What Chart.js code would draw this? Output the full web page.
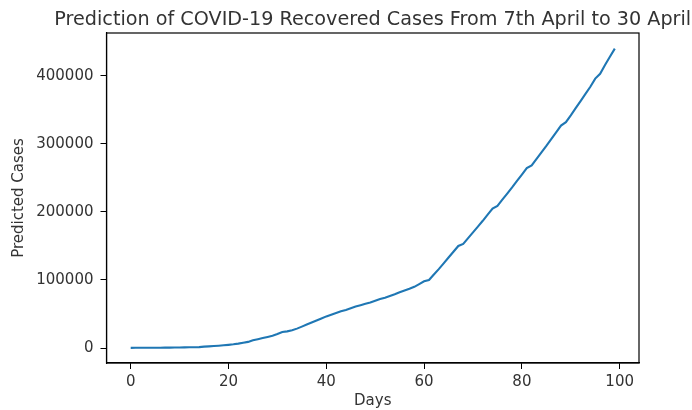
<!DOCTYPE html>
<html>
<head>
<meta charset="utf-8">
<script src="https://cdn.jsdelivr.net/npm/chart.js@4.4.1/dist/chart.umd.min.js"></script>
<style>
    body { margin: 0; background: #fff; }
</style>
</head>
<body>
<canvas id="chart" width="692" height="410"></canvas>
<script>
// predicted recovered cases
const days = [];
for (let d = 0; d < 100; d++) days.push(d);

const predicted = [
    300, 320, 340, 370, 400, 440, 490, 550, 620, 700,
    800, 920, 1060, 1220, 1400, 2000, 2400, 2900, 3400, 4000,
    4700, 5500, 6500, 7700, 9000, 11500, 13000, 14600, 16300, 18000,
    20500, 23500, 24500, 26000, 28500, 31500, 34500, 37500, 40500, 43500,
    46500, 49000, 51500, 54000, 56000, 58500, 61000, 63000, 65000, 67000,
    69500, 72000, 74000, 76500, 79000, 82000, 84500, 87000, 90000, 94000,
    98000, 100000, 108000, 116000, 124500, 133000, 141500, 150000, 153000, 161500,
    170000, 178500, 187000, 196000, 205000, 209000, 218000, 227000, 236000, 245500,
    255000, 264500, 268500, 278000, 287500, 297000, 307000, 317000, 327000, 332000,
    342000, 352500, 363000, 373500, 384000, 396000, 403000, 416000, 428000, 440000
];

const xTicks = [0, 20, 40, 60, 80, 100];
const yTicks = [0, 100000, 200000, 300000, 400000];

const titleText = 'Prediction of COVID-19 Recovered Cases From 7th April to 30 April';

const font = 'DejaVu Sans';
const textColor = '#333';

//draws the top and right spines, and the title centred over the axes
const boxPlugin = {
    id: 'box',
    afterDraw(chart) {
        const { ctx, chartArea } = chart;
        ctx.save();
        ctx.strokeStyle = '#000';
        ctx.lineWidth = 1.2;
        ctx.strokeRect(chartArea.left, chartArea.top, chartArea.right - chartArea.left, chartArea.bottom - chartArea.top);

        ctx.fillStyle = textColor;
        ctx.font = `19.2px "${font}"`;
        ctx.textAlign = 'center';
        ctx.textBaseline = 'alphabetic';
        ctx.fillText(titleText, (chartArea.left + chartArea.right) / 2, 25);
        ctx.restore();
    }
};

const ctx = document.getElementById('chart');

new Chart(ctx, {
    type: 'line',
    data: {
        datasets: [{
            data: days.map((d, i) => ({ x: d, y: predicted[i] })),
            borderColor: '#1f77b4',
            borderWidth: 2.1,
            pointRadius: 0,
            tension: 0,
            fill: false
        }]
    },
    options: {
        responsive: false,
        animation: false,
        layout: { padding: { left: 0, right: 53, top: 33, bottom: 0 } },
        plugins: {
            legend: { display: false },
            tooltip: { enabled: false },
            title: { display: false }
        },
        scales: {
            x: {
                type: 'linear',
                min: -4.95,
                max: 103.95,
                afterBuildTicks(scale) {
                    scale.ticks = xTicks.map(v => ({ value: v }));
                },
                afterFit(scale) {
                    scale.height = 47;
                },
                grid: { drawOnChartArea: false, drawTicks: true, tickLength: 6, color: '#000', lineWidth: 1 },
                border: { display: true, color: '#000', width: 1.2 },
                ticks: {
                    color: textColor,
                    font: { family: font, size: 15 },
                    padding: 4,
                    maxRotation: 0,
                    callback: v => String(v)
                },
                title: {
                    display: true,
                    text: 'Days',
                    color: textColor,
                    font: { family: font, size: 15 },
                    padding: { top: 0, bottom: 0 }
                }
            },
            y: {
                type: 'linear',
                min: -22000,
                max: 463000,
                afterBuildTicks(scale) {
                    scale.ticks = yTicks.map(v => ({ value: v }));
                },
                afterFit(scale) {
                    scale.width = 106.5;
                },
                grid: { drawOnChartArea: false, drawTicks: true, tickLength: 6, color: '#000', lineWidth: 1 },
                border: { display: true, color: '#000', width: 1.2 },
                ticks: {
                    color: textColor,
                    font: { family: font, size: 15 },
                    padding: 7,
                    callback: v => String(v)
                },
                title: {
                    display: true,
                    text: 'Predicted Cases',
                    color: textColor,
                    font: { family: font, size: 15 },
                    padding: { top: 10, bottom: 0 }
                }
            }
        }
    },
    plugins: [boxPlugin]
});
</script>
</body>
</html>
